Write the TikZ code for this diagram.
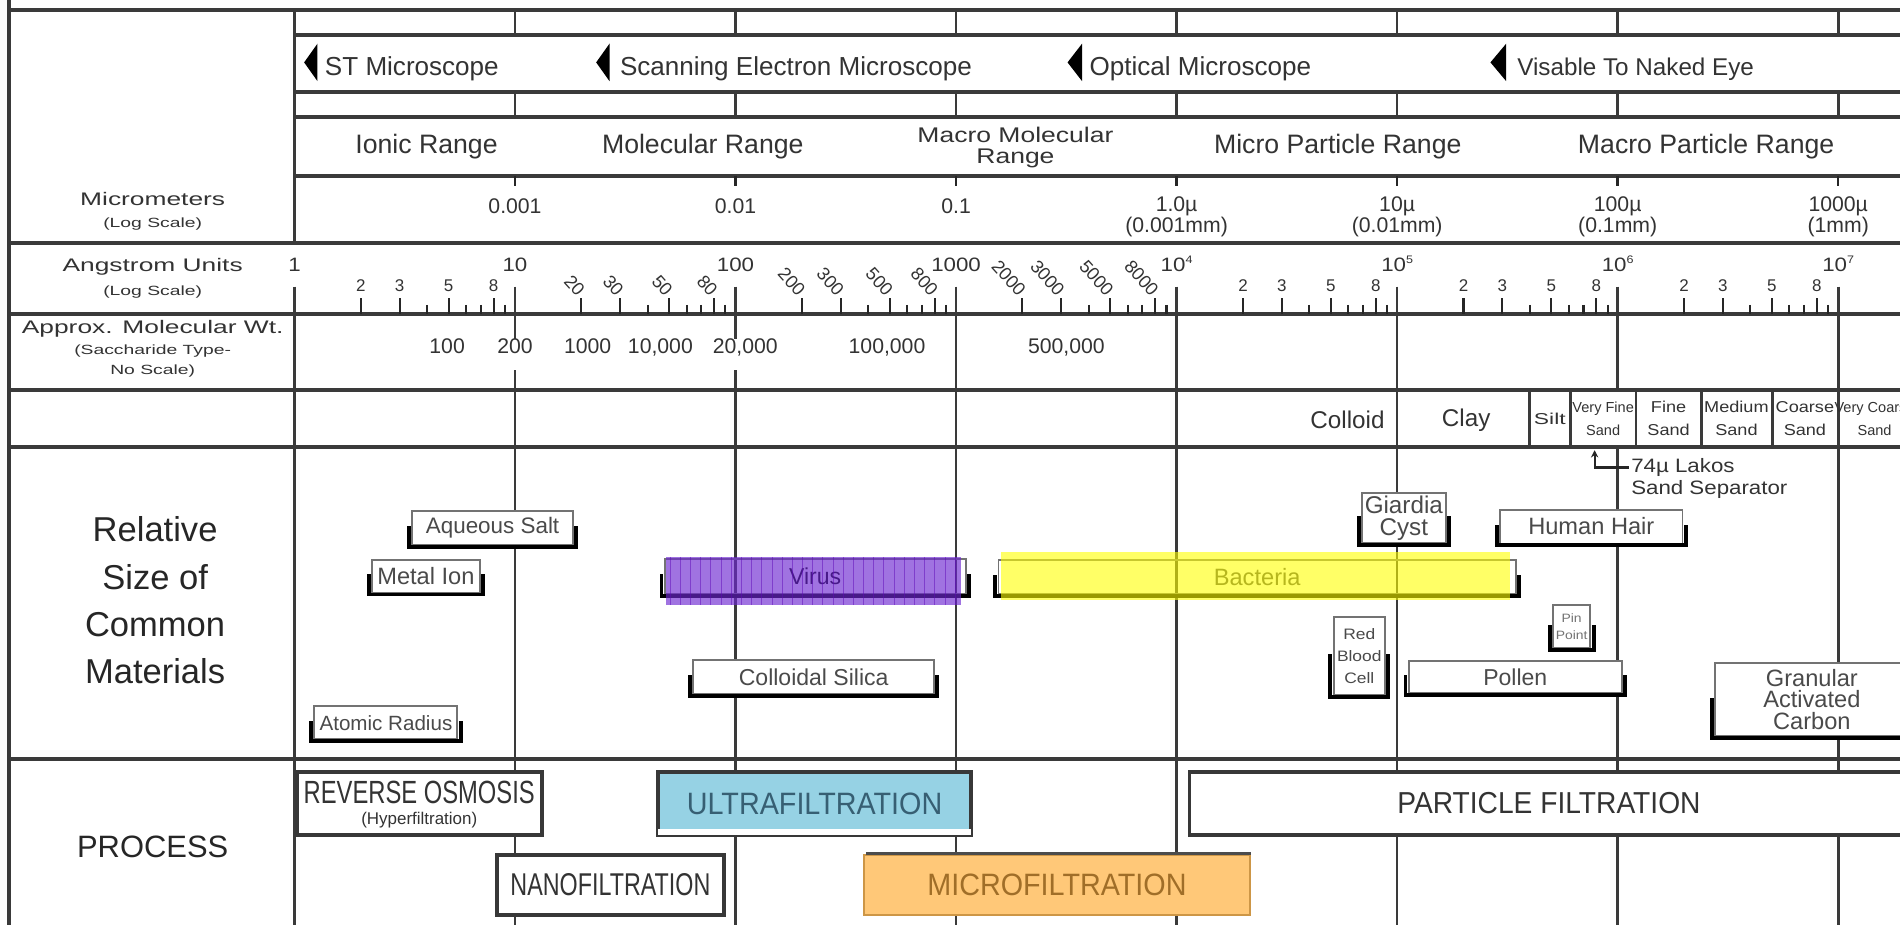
\documentclass[tikz,border=0pt]{standalone}
\usepackage{fontspec}
\setmainfont{Liberation Sans}
\newfontfamily\wideA[FakeStretch=1.45]{Liberation Sans}
\newfontfamily\wideB[FakeStretch=1.15]{Liberation Sans}
\newfontfamily\wideC[FakeStretch=1.25]{Liberation Sans}
\newfontfamily\narrowA[FakeStretch=0.74]{Liberation Sans}
\newfontfamily\narrowB[FakeStretch=0.93]{Liberation Sans}
\usetikzlibrary{arrows.meta}

\definecolor{gridline}{HTML}{3A3A3A}
\definecolor{txt}{HTML}{333333}
\definecolor{mattxt}{HTML}{4A4A4A}
\definecolor{virusfill}{RGB}{110,40,210}
\definecolor{virushatch}{RGB}{95,10,185}
\definecolor{bactfill}{RGB}{255,255,0}
\definecolor{ufblue}{RGB}{150,210,228}
\definecolor{uftext}{RGB}{55,95,115}
\definecolor{mforange}{RGB}{255,200,120}
\definecolor{mfedge}{RGB}{205,150,70}
\definecolor{mftext}{RGB}{160,110,40}

\newcommand\sz[2]{\fontsize{#1}{#2}\selectfont}
\newcommand\sups[1]{\raisebox{0.42em}{\fontsize{9}{9}\selectfont #1}}

\tikzset{
  hline/.style={draw=gridline, line width=3pt},
  vline/.style={draw=gridline, line width=2.2pt},
  tickmark/.style={draw=black!85, line width=1.7pt},
  lbl/.style={text=txt, inner sep=0pt, align=center},
  collbl/.style={lbl, font=\wideA\sz{15}{16}},
  colsub/.style={lbl, font=\wideA\sz{11}{12}},
  scopelbl/.style={lbl, anchor=base west, font=\sz{21.5}{24}},
  rangelbl/.style={lbl, anchor=base, font=\sz{22}{24}},
  umlbl/.style={lbl, anchor=base, font=\sz{17.5}{19}},
  decade/.style={lbl, anchor=base, font=\wideB\sz{16}{18}},
  minorlbl/.style={lbl, anchor=base, font=\sz{14}{16}},
  rotlbl/.style={lbl, anchor=east, rotate=-48, font=\sz{15}{16}},
  mwlbl/.style={lbl, anchor=base, font=\sz{17.5}{19}},
  soillbl/.style={lbl, font=\sz{20}{22}},
  sandlbl/.style={lbl, font=\wideB\sz{13}{19}},
  matbox/.style={draw=black!55, line width=1.6pt, fill=white, inner sep=0pt,
    align=center, text=mattxt, font=\sz{19}{19}},
  feet/.style={draw=black, line width=3.2pt, line cap=rect},
  procbox/.style={draw=black!78, line width=3pt, fill=white, inner sep=0pt,
    align=center, text=txt},
  marker/.style={fill=black},
  lakosarrow/.style={draw=black!85, line width=1.8pt, -{Stealth[length=6pt,width=6pt]}},
}

% material box: [options]{name}{x1}{y1}{x2}{y2}{text}
\newcommand\matitem[7][]{\node[matbox,#1,minimum width={#5-#3},minimum height={#6-#4}]
  (#2) at ({(#3+#5)/2},{(#4+#6)/2}) {#7};}
% process box: [options]{name}{x1}{y1}{x2}{y2}{text}
\newcommand\procitem[7][]{\node[procbox,#1,minimum width={#5-#3},minimum height={#6-#4}]
  (#2) at ({(#3+#5)/2},{(#4+#6)/2}) {#7};}
% black bracket under the lower half of a material box
\newcommand\feetof[1]{\draw[feet] ([xshift=-1.8pt]#1.west) |- ([xshift=1.8pt,yshift=-0.8pt]#1.south east) -- ([xshift=1.8pt]#1.east);}

\begin{document}
\begin{tikzpicture}[x=1pt,y=-1pt]
\useasboundingbox (0,0) rectangle (1568,763);
\fill[white] (0,0) rectangle (1568,763);
\clip (0,0) rectangle (1568,763);

% ---------- table frame ----------
\draw[vline, line width=2.6pt] (7.4,0) -- (7.4,763);
\draw[hline] (7.4,8.3) -- (1568,8.3);
\foreach \yy in {29,76,96.5,145} \draw[hline] (243,\yy) -- (1568,\yy);
\foreach \yy in {200.5,259,322,369,626.5} \draw[hline] (7.4,\yy) -- (1568,\yy);

% label column divider (also the 1 angstrom line)
\draw[vline] (243,8.3) -- (243,200.5);
\draw[vline] (243,236.6) -- (243,763);

% decade lines in the upper grid rows and ticks of the micrometer row
\foreach \k in {1,...,7}{
  \pgfmathsetmacro\xx{243+182*\k}
  \draw[vline] (\xx,8.3) -- (\xx,29);
  \draw[vline] (\xx,76) -- (\xx,96.5);
  \draw[tickmark, line width=2pt] (\xx,145) -- (\xx,153.5);
}
% decade lines through the lower rows
\foreach \xx in {425,607}{
  \draw[vline] (\xx,236.6) -- (\xx,280);
  \draw[vline] (\xx,305.5) -- (\xx,763);
}
\foreach \xx in {789,971,1153,1517} \draw[vline] (\xx,236.6) -- (\xx,763);
\draw[vline] (1335,236.6) -- (1335,322);
\draw[vline] (1335,369) -- (1335,763);

% minor ticks of the angstrom scale
\foreach \d in {0,...,7}{
  \foreach \n in {2,...,9}{
    \pgfmathsetmacro\xx{243+182*\d+182*log10(\n)}
    \pgfmathsetmacro\yy{(\n==2||\n==3||\n==5||\n==8)?246:251.5}
    \draw[tickmark] (\xx,\yy) -- (\xx,259);
  }
}

% soil classification cell dividers
\foreach \xx in {1262,1296,1350,1404,1462.5} \draw[vline] (\xx,322) -- (\xx,369);

% ---------- label column ----------
\node[collbl] (micro) at (126,164) {Micrometers};
\node[colsub] (microls) at (126,185) {(Log Scale)};
\node[collbl] (angst) at (126,220) {Angstrom Units};
\node[colsub] (angstls) at (126,241) {(Log Scale)};
\node[collbl] (molwt) at (126,271) {Approx. Molecular Wt.};
\node[colsub] (molwt1) at (126,290) {(Saccharide Type-};
\node[colsub] (molwt2) at (126,306) {No Scale)};
\node[lbl, text=black!85, font=\sz{28.5}{39}] (relsize) at (128,495.5) {Relative\\Size of\\Common\\Materials};
\node[lbl, text=black!85, font=\sz{25.5}{28}] (process) at (126,699) {PROCESS};

% ---------- microscopes ----------
\fill[marker] (262,36) -- (262,67) -- (251,51.5) -- cycle;
\node[scopelbl] (stm) at (268,62) {ST Microscope};
\fill[marker] (503,36) -- (503,67) -- (492,51.5) -- cycle;
\node[scopelbl] (sem) at (511.5,62) {Scanning Electron Microscope};
\fill[marker] (893,36) -- (893,67) -- (881,51.5) -- cycle;
\node[scopelbl] (optical) at (899,62) {Optical Microscope};
\fill[marker] (1243,36) -- (1243,67) -- (1230,51.5) -- cycle;
\node[scopelbl, font=\sz{20}{22}] (naked) at (1252,62) {Visable To Naked Eye};

% ---------- size ranges ----------
\node[rangelbl] (ionic) at (352,127) {Ionic Range};
\node[rangelbl] (molec) at (580,127) {Molecular Range};
\node[rangelbl, font=\wideC\sz{17.5}{17}] (macromol1) at (838,118) {Macro Molecular};
\node[rangelbl, font=\wideC\sz{17.5}{17}] (macromol2) at (838,135) {Range};
\node[rangelbl] (micropart) at (1104,127) {Micro Particle Range};
\node[rangelbl] (macropart) at (1408,127) {Macro Particle Range};

% ---------- micrometer scale ----------
\node[umlbl] (um1) at (425,176) {0.001};
\node[umlbl] (um2) at (607,176) {0.01};
\node[umlbl] (um3) at (789,176) {0.1};
\node[umlbl] (um4) at (971,174.5) {1.0µ};
\node[umlbl] (um4b) at (971,191.5) {(0.001mm)};
\node[umlbl] (um5) at (1153,174.5) {10µ};
\node[umlbl] (um5b) at (1153,191.5) {(0.01mm)};
\node[umlbl] (um6) at (1335,174.5) {100µ};
\node[umlbl] (um6b) at (1335,191.5) {(0.1mm)};
\node[umlbl] (um7) at (1517,174.5) {1000µ};
\node[umlbl] (um7b) at (1517,191.5) {(1mm)};

% ---------- angstrom scale ----------
\node[decade] (a0) at (243,224) {1};
\node[decade] (a1) at (425,224) {10};
\node[decade] (a2) at (607,224) {100};
\node[decade] (a3) at (789,224) {1000};
\node[decade] (a4) at (971,224) {10\sups{4}};
\node[decade] (a5) at (1153,224) {10\sups{5}};
\node[decade] (a6) at (1335,224) {10\sups{6}};
\node[decade] (a7) at (1517,224) {10\sups{7}};
\foreach \d in {0,4,5,6,7}{
  \foreach \n in {2,3,5,8}{
    \node[minorlbl] (u\d-\n) at ({243+182*\d+182*log10(\n)},240.5) {\n};
  }
}
\foreach \d/\z in {1/0,2/00,3/000}{
  \foreach \n in {2,3,5,8}{
    \node[rotlbl] (r\d-\n) at ({243+182*\d+182*log10(\n)},242) {\n\z};
  }
}

% ---------- molecular weight ----------
\node[mwlbl] (mw1) at (369,292) {100};
\node[mwlbl] (mw2) at (425,292) {200};
\node[mwlbl] (mw3) at (485,292) {1000};
\node[mwlbl] (mw4) at (545,292) {10,000};
\node[mwlbl] (mw5) at (615,292) {20,000};
\node[mwlbl] (mw6) at (732,292) {100,000};
\node[mwlbl] (mw7) at (880,292) {500,000};

% ---------- soil classes ----------
\node[soillbl] (colloid) at (1112,346.5) {Colloid};
\node[soillbl] (clay) at (1210,346.5) {Clay};
\node[lbl, font=\wideA\sz{13}{15}] (silt) at (1279,345.5) {Silt};
\node[lbl, font=\sz{12}{19}] (vfsand) at (1323,345.5) {Very Fine\\Sand};
\node[sandlbl] (fsand) at (1377,345.5) {Fine\\Sand};
\node[sandlbl] (msand) at (1433,345.5) {Medium\\Sand};
\node[sandlbl] (csand) at (1489.5,345.5) {Coarse\\Sand};
\node[lbl, font=\sz{12}{19}] (vcsand) at (1547,345.5) {Very Coarse\\Sand};

% 74 micron separator callout
\coordinate (lakostip) at (1316,371.5);
\node[lbl, anchor=base west, text=black!80, font=\wideB\sz{16}{18}] (lakos1) at (1346,390) {74µ Lakos};
\node[lbl, anchor=base west, text=black!80, font=\wideB\sz{16}{18}] (lakos2) at (1346,408) {Sand Separator};
\draw[lakosarrow] ([xshift=-2pt]lakos1.west) -| (lakostip);

% ---------- common materials ----------
\matitem[font=\sz{18.5}{19}]{aqsalt}{340}{422}{473}{449.5}{Aqueous Salt}
\matitem[font=\sz{19.5}{19}]{metalion}{307}{462}{396}{489}{Metal Ion}
\matitem[font=\sz{17}{18}]{atomic}{259.5}{583}{377.5}{610}{Atomic Radius}
\matitem[fill=none, text=black]{virus}{548.5}{461}{797}{490}{Virus}
\matitem[fill=none, font=\sz{19.5}{19}]{bacteria}{824}{462}{1251}{490}{Bacteria}
\matitem{silica}{572}{545}{771}{572.5}{Colloidal Silica}
\matitem[font=\sz{20}{18}]{giardia}{1124}{407}{1193}{448}{Giardia\\Cyst}
\matitem[font=\sz{19.5}{19}]{hair}{1238}{420.5}{1388.5}{448.5}{Human Hair}
\matitem[font=\wideB\sz{12.5}{18.5}]{rbc}{1100.5}{509.5}{1143}{573.5}{Red\\Blood\\Cell}
\matitem[font=\wideB\sz{10}{14}, text=black!55]{pin}{1281.5}{499.5}{1312.5}{535}{Pin\\Point}
\matitem{pollen}{1162.5}{545.5}{1338.5}{572}{Pollen}
\matitem[font=\sz{19.5}{18}]{gac}{1415.5}{547}{1575}{607.5}{Granular\\Activated\\Carbon}
\foreach \b in {aqsalt,metalion,atomic,virus,bacteria,silica,giardia,hair,rbc,pin,pollen,gac}{
  \feetof{\b}
}

% translucent highlight bars
\fill[virusfill, opacity=0.65] (550,459.5) rectangle (793,499.5);
\foreach \i in {0,...,28}{
  \draw[virushatch, line width=0.6pt, opacity=0.5] ({553+8.4*\i},459.5) -- ++(0,40);
}
\fill[bactfill, opacity=0.6] (826,455.5) rectangle (1246,495);

% ---------- processes ----------
\procitem{ro}{245}{637}{447.5}{689}{}
\node[lbl, anchor=base, font=\narrowA\sz{26.5}{28}] (rotitle) at (346,663) {REVERSE OSMOSIS};
\node[lbl, anchor=base, font=\sz{14}{14}] (rosub) at (346,680.6) {(Hyperfiltration)};
\procitem[fill=ufblue, text=uftext, font=\narrowB\sz{25.5}{26}]{uf}{543}{637}{801.5}{689}{ULTRAFILTRATION}
\fill[white] ([xshift=1.5pt,yshift=1.5pt]uf.south west) rectangle ([xshift=-1.5pt,yshift=6.5pt]uf.south east);
\procitem[font=\narrowA\sz{26}{26}]{nf}{410}{705.5}{597.5}{755}{NANOFILTRATION}
\procitem[fill=mforange, draw=mfedge, line width=2pt, text=mftext, font=\narrowB\sz{25.5}{26}]{mf}{713}{705.5}{1031.5}{755}{MICROFILTRATION}
\draw[black!70, line width=3pt] ([xshift=3pt]mf.north west) -- (mf.north east);
\procitem[font=\narrowB\sz{25}{26}]{pf}{981.5}{637}{1575}{689}{PARTICLE FILTRATION}

\end{tikzpicture}
\end{document}
